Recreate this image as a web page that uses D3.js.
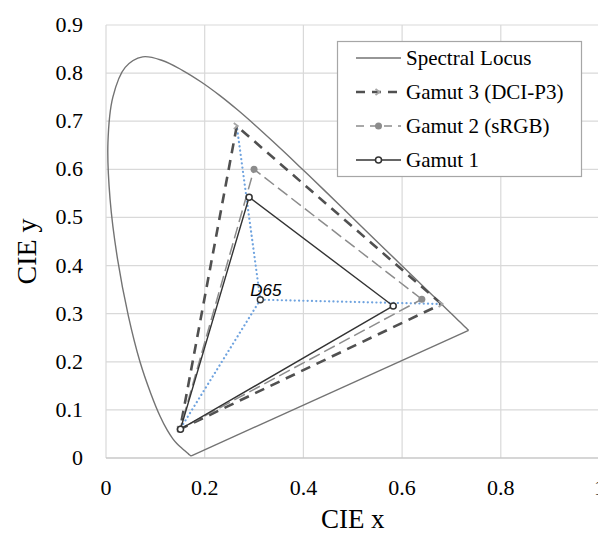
<!DOCTYPE html>
<html>
<head>
<meta charset="utf-8">
<script src="https://cdn.jsdelivr.net/npm/d3@7"></script>
<style>
  body { margin: 0; background: #fff; }
  svg { display: block; }
</style>
</head>
<body>
<div id="chart"></div>
<script>
// CIE 1931 2-degree spectral locus, 380-700 nm
var locusX = [0.1741, 0.1740, 0.1738, 0.1736, 0.1733, 0.1730, 0.1726, 0.1721, 0.1714, 0.1703,
    0.1689, 0.1669, 0.1644, 0.1611, 0.1566, 0.1510, 0.1440, 0.1355, 0.1241, 0.1096,
    0.0913, 0.0687, 0.0454, 0.0235, 0.0082, 0.0039, 0.0139, 0.0389, 0.0743, 0.1142,
    0.1547, 0.1929, 0.2296, 0.2658, 0.3016, 0.3373, 0.3731, 0.4087, 0.4441, 0.4788,
    0.5125, 0.5448, 0.5752, 0.6029, 0.6270, 0.6482, 0.6658, 0.6801, 0.6915, 0.7006,
    0.7079, 0.7140, 0.7190, 0.7230, 0.7260, 0.7283, 0.7300, 0.7311, 0.7320, 0.7327,
    0.7334, 0.7340, 0.7344, 0.7346, 0.7347];
var locusY = [0.0050, 0.0050, 0.0049, 0.0049, 0.0048, 0.0048, 0.0048, 0.0048, 0.0051, 0.0058,
    0.0069, 0.0086, 0.0109, 0.0138, 0.0177, 0.0227, 0.0297, 0.0399, 0.0578, 0.0868,
    0.1327, 0.2007, 0.2950, 0.4127, 0.5384, 0.6548, 0.7502, 0.8120, 0.8338, 0.8262,
    0.8059, 0.7816, 0.7543, 0.7243, 0.6923, 0.6589, 0.6245, 0.5896, 0.5547, 0.5202,
    0.4866, 0.4544, 0.4242, 0.3965, 0.3725, 0.3514, 0.3340, 0.3197, 0.3083, 0.2993,
    0.2920, 0.2859, 0.2809, 0.2770, 0.2740, 0.2717, 0.2700, 0.2689, 0.2680, 0.2673,
    0.2666, 0.2660, 0.2656, 0.2654, 0.2653];

// gamut primaries R, G, B
var gamut3X = [0.680, 0.265, 0.150];
var gamut3Y = [0.320, 0.690, 0.060];
var gamut2X = [0.640, 0.300, 0.150];
var gamut2Y = [0.330, 0.600, 0.060];
var gamut1X = [0.582, 0.290, 0.151];
var gamut1Y = [0.316, 0.542, 0.060];

var whitePoint = {name: 'D65', x: 0.3127, y: 0.3290};

var xTicks = [0, 0.2, 0.4, 0.6, 0.8, 1];
var yTicks = [0, 0.1, 0.2, 0.3, 0.4, 0.5, 0.6, 0.7, 0.8, 0.9];
var legendNames = ['Spectral Locus', 'Gamut 3 (DCI-P3)', 'Gamut 2 (sRGB)', 'Gamut 1'];

var width = 598, height = 533;
var serif = '"Liberation Serif", "Times New Roman", serif';

var x = d3.scaleLinear().domain([0, 1]).range([106, 599.5]);
var y = d3.scaleLinear().domain([0, 0.9]).range([458, 25]);

var svg = d3.select('#chart').append('svg')
        .attr('width', width)
        .attr('height', height);

// grid
svg.append('g').selectAll('line.h')
        .data(yTicks)
        .enter().append('line')
        .attr('x1', x(0)).attr('x2', x(1))
        .attr('y1', function (d) { return y(d); })
        .attr('y2', function (d) { return y(d); })
        .attr('stroke', '#d9d9d9')
        .attr('stroke-width', 1.2);
svg.append('g').selectAll('line.v')
        .data(xTicks)
        .enter().append('line')
        .attr('y1', y(0)).attr('y2', y(0.9))
        .attr('x1', function (d) { return x(d); })
        .attr('x2', function (d) { return x(d); })
        .attr('stroke', '#d9d9d9')
        .attr('stroke-width', 1.2);
svg.append('line')
        .attr('x1', x(0)).attr('x2', x(1))
        .attr('y1', y(0)).attr('y2', y(0))
        .attr('stroke', '#bfbfbf')
        .attr('stroke-width', 1.2);

// tick labels
svg.append('g').selectAll('text')
        .data(yTicks)
        .enter().append('text')
        .attr('x', 83)
        .attr('y', function (d) { return y(d) + 7; })
        .attr('text-anchor', 'end')
        .style('font-family', serif)
        .style('font-size', '22px')
        .text(function (d) { return d3.format('~g')(d); });
svg.append('g').selectAll('text')
        .data(xTicks)
        .enter().append('text')
        .attr('x', function (d) { return x(d); })
        .attr('y', 495)
        .attr('text-anchor', 'middle')
        .style('font-family', serif)
        .style('font-size', '22px')
        .text(function (d) { return d3.format('~g')(d); });

// axis titles
svg.append('text')
        .attr('x', (x(0) + x(1)) / 2)
        .attr('y', 528)
        .attr('text-anchor', 'middle')
        .style('font-family', serif)
        .style('font-size', '27px')
        .text('CIE x');
svg.append('text')
        .attr('transform', 'translate(36,' + (y(0.45) + 10) + ') rotate(-90)')
        .attr('text-anchor', 'middle')
        .style('font-family', serif)
        .style('font-size', '28px')
        .text('CIE y');

// spectral locus
var locus = locusX.map(function (d, i) { return [d, locusY[i]]; });
var smooth = d3.line()
        .x(function (d) { return x(d[0]); })
        .y(function (d) { return y(d[1]); })
        .curve(d3.curveCatmullRom);
var straight = d3.line()
        .x(function (d) { return x(d[0]); })
        .y(function (d) { return y(d[1]); });
svg.append('path')
        .attr('d', smooth(locus))
        .attr('fill', 'none')
        .attr('stroke', '#737373')
        .attr('stroke-width', 1.4);
svg.append('path')
        .attr('d', straight([locus[locus.length - 1], locus[0]]))
        .attr('fill', 'none')
        .attr('stroke', '#737373')
        .attr('stroke-width', 1.4);

function toPoints(xs, ys) {
    return xs.map(function (d, i) { return [d, ys[i]]; });
}
var g3 = toPoints(gamut3X, gamut3Y),
        g2 = toPoints(gamut2X, gamut2Y),
        g1 = toPoints(gamut1X, gamut1Y);

// white point to gamut 3 primaries
svg.append('g').selectAll('path')
        .data(g3)
        .enter().append('path')
        .attr('d', function (d) { return straight([[whitePoint.x, whitePoint.y], d]); })
        .attr('fill', 'none')
        .attr('stroke', '#6fa3df')
        .attr('stroke-width', 2.2)
        .attr('stroke-dasharray', '0.1,4.2')
        .attr('stroke-linecap', 'round');

var styles = [
    {pts: g3, color: '#505050', w: 2.6, dash: '10,7', marker: 'arrow', mColor: '#a6a6a6'},
    {pts: g2, color: '#8c8c8c', w: 1.5, dash: '12,5', marker: 'dot', mColor: '#8c8c8c'},
    {pts: g1, color: '#333333', w: 1.4, dash: null, marker: 'ring', mColor: '#333333'}
];

function drawMarker(sel, type, color) {
    if (type === 'dot') {
        sel.append('circle').attr('r', 3.5).attr('fill', color);
    } else if (type === 'ring') {
        sel.append('circle').attr('r', 3).attr('fill', '#fff')
                .attr('stroke', color).attr('stroke-width', 1.5);
    } else {
        sel.append('path').attr('d', 'M-3,-3 L1,0 L-3,3')
                .attr('fill', 'none').attr('stroke', color).attr('stroke-width', 1.8);
    }
}

styles.forEach(function (s) {
    svg.append('path')
            .attr('d', straight(s.pts.concat([s.pts[0]])))
            .attr('fill', 'none')
            .attr('stroke', s.color)
            .attr('stroke-width', s.w)
            .attr('stroke-dasharray', s.dash);
});
styles.forEach(function (s) {
    s.pts.forEach(function (p) {
        var m = svg.append('g').attr('transform', 'translate(' + x(p[0]) + ',' + y(p[1]) + ')');
        drawMarker(m, s.marker, s.mColor);
    });
});

// D65
svg.append('circle')
        .attr('cx', x(whitePoint.x))
        .attr('cy', y(whitePoint.y))
        .attr('r', 3)
        .attr('fill', '#fff')
        .attr('stroke', '#333')
        .attr('stroke-width', 1.4);
svg.append('text')
        .attr('x', x(whitePoint.x) - 10)
        .attr('y', y(whitePoint.y) - 4)
        .style('font-family', '"Liberation Sans", Arial, sans-serif')
        .style('font-style', 'italic')
        .style('font-size', '17px')
        .text(whitePoint.name);

// legend
var legend = svg.append('g');
legend.append('rect')
        .attr('x', 337.5).attr('y', 41.5)
        .attr('width', 244).attr('height', 135)
        .attr('fill', '#fff')
        .attr('stroke', '#a6a6a6')
        .attr('stroke-width', 1.2);
var legendStyles = [{color: '#737373', w: 1.4, dash: null, marker: null}].concat(styles);
legendNames.forEach(function (name, i) {
    var s = legendStyles[i], cy = 58 + i * 34;
    legend.append('line')
            .attr('x1', 356).attr('x2', 401)
            .attr('y1', cy).attr('y2', cy)
            .attr('stroke', s.color)
            .attr('stroke-width', s.w)
            .attr('stroke-dasharray', s.dash ? (i === 1 ? '9,7' : '8,6') : null);
    if (s.marker) {
        drawMarker(legend.append('g').attr('transform', 'translate(378.5,' + cy + ')'), s.marker, s.mColor);
    }
    legend.append('text')
            .attr('x', 406)
            .attr('y', cy + 7)
            .style('font-family', serif)
            .style('font-size', '21px')
            .text(name);
});
</script>
</body>
</html>
